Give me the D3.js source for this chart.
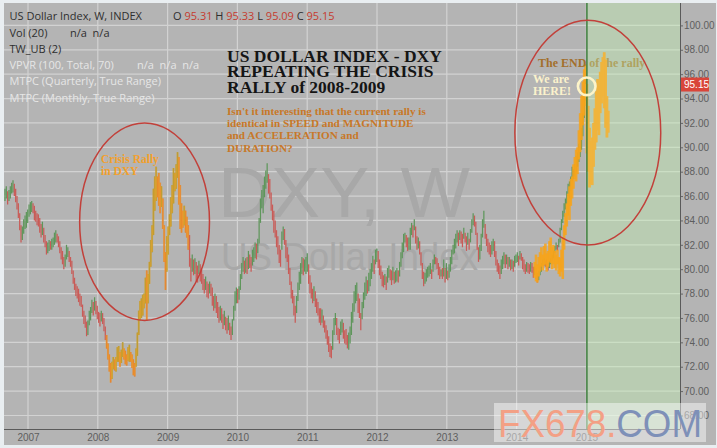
<!DOCTYPE html>
<html><head><meta charset="utf-8">
<script src="https://cdn.jsdelivr.net/npm/d3@7/dist/d3.min.js"></script>
<style>body{margin:0;background:#e9eef1;}svg{display:block}</style>
</head><body>
<svg id="c" width="717" height="448"></svg>
<script>
// ---------------- DATA ----------------
const yearTicks = [2007, 2008, 2009, 2010, 2011, 2012, 2013, 2014, 2015];
const priceTicks = [68, 70, 72, 74, 76, 78, 80, 82, 84, 86, 88, 90, 92, 94, 96, 98, 100];
const startYear = 2006.67;   // year of first weekly bar
const weeksPerYear = 52.18;
// weekly lows / highs of DXY
const lows = [
85.6,85.8,85.3,85.6,85.8,86.2,86.3,86.0,85.5,84.9,84.2,83.2,82.2,82.4,82.9,83.3,83.4,
83.8,84.3,84.5,84.7,84.6,84.0,83.9,83.6,83.5,83.0,82.6,82.8,82.2,81.8,81.2,81.3,81.5,81.6,81.6,81.8,82.0,82.2,82.2,81.8,81.3,80.8,80.4,80.0,80.2,80.8,81.0,80.6,80.2,79.6,78.8,78.3,77.8,77.6,77.3,77.0,76.9,76.1,75.5,75.2,74.5,74.6,75.4,75.8,76.4,76.2,76.6,76.3,
75.9,75.6,75.3,75.7,75.5,74.9,74.2,73.5,72.6,71.6,70.7,71.0,71.8,71.7,71.6,72.4,72.4,72.0,72.3,72.8,72.6,72.2,72.1,72.5,72.4,72.4,71.9,71.3,71.2,72.0,72.9,74.6,75.8,76.0,76.2,76.8,77.2,75.8,77.2,78.8,80.2,81.4,82.8,84.8,85.6,85.9,85.2,84.6,85.1,83.3,80.6,78.3,
79.8,81.2,82.8,83.5,84.6,85.4,86.4,86.6,87.5,85.3,83.3,83.0,83.4,83.6,83.0,82.6,81.6,80.2,79.0,79.8,79.5,79.6,79.0,78.9,79.6,79.0,78.8,78.3,78.0,78.3,77.7,77.6,78.0,77.8,77.0,76.6,76.8,76.4,76.0,75.6,75.8,75.6,75.1,75.4,75.0,74.7,75.0,74.6,74.2,74.6,75.8,76.6,77.2,
77.2,77.5,78.3,79.2,79.8,79.6,79.7,79.6,80.0,80.1,79.8,80.3,80.6,80.9,80.8,81.3,82.1,83.8,85.0,84.6,85.9,86.6,87.1,86.2,85.8,84.8,84.0,83.0,82.6,81.8,81.2,80.5,80.2,81.6,82.4,82.0,80.9,80.6,79.6,78.7,77.6,77.2,76.2,75.6,76.4,77.4,78.3,78.8,79.6,79.5,79.8,79.6,79.8,
78.8,78.0,77.6,77.2,77.4,76.9,76.4,76.2,75.6,75.4,75.6,75.2,74.8,74.3,73.8,73.2,72.8,72.7,73.4,74.6,75.4,74.6,74.2,73.9,74.6,74.8,74.3,73.9,73.8,73.5,73.4,73.9,74.6,75.6,76.5,77.2,77.4,76.4,76.0,75.0,75.9,76.8,77.5,77.8,78.0,78.2,78.6,79.2,79.8,79.6,80.4,
80.6,80.1,79.5,79.2,78.6,78.5,78.7,78.3,78.9,79.3,79.1,78.7,79.1,78.8,78.9,79.0,78.9,79.4,80.2,80.9,81.4,82.2,81.8,81.5,81.6,81.6,82.8,82.6,83.2,82.1,81.6,81.7,81.2,80.3,79.2,78.6,78.8,79.0,79.3,79.4,79.6,79.2,79.8,80.4,80.4,80.0,79.5,79.2,79.4,79.2,79.4,78.9,
79.2,79.1,79.3,79.8,80.4,81.2,81.3,81.7,82.2,81.9,82.4,82.1,81.8,82.5,82.2,81.5,82.0,81.6,82.2,83.0,83.6,83.5,82.8,81.6,80.6,80.8,81.5,82.6,83.4,82.5,81.9,81.4,81.2,81.0,81.2,81.5,81.0,80.3,79.8,79.6,79.2,79.6,80.0,80.4,80.1,80.4,80.0,80.2,79.9,80.0,79.8,80.2,
80.5,80.6,80.3,80.8,80.7,80.0,79.8,79.6,79.8,79.7,79.6,79.8,79.7,79.3,79.5,79.2,78.9,79.1,79.5,79.8,80.3,80.3,80.2,80.0,79.9,80.1,80.4,80.7,80.9,81.3,81.6,81.5,81.8,82.2,83.2,83.8,84.3,84.9,85.3,86.0,85.8,86.4,87.2,87.4,87.6,88.0,88.4,88.8,89.2,89.8,90.9,92.4,93.8];
const highs = [
86.6,86.8,86.4,86.5,86.8,87.1,87.3,87.0,86.6,86.0,85.4,84.6,83.6,83.5,84.1,84.4,84.7,
84.9,85.3,85.5,85.6,85.4,85.2,84.8,84.6,84.5,84.2,83.7,83.9,83.4,82.8,82.3,82.2,82.4,82.3,82.5,82.6,83.0,83.2,82.9,82.7,82.3,81.8,81.5,81.0,81.2,82.0,81.8,81.5,81.0,80.7,79.9,79.3,78.8,78.6,78.4,78.0,77.8,77.1,76.6,76.2,75.7,75.8,76.6,76.9,77.5,77.3,77.7,77.4,
77.0,76.5,76.4,76.6,76.4,76.0,75.3,74.6,73.9,73.0,72.3,72.4,72.8,72.6,72.8,73.6,73.7,73.2,73.4,74.0,73.5,73.3,73.0,73.6,73.8,73.2,73.0,72.6,72.3,73.5,74.8,76.6,77.4,77.6,77.9,78.0,79.3,79.9,79.6,80.6,82.4,83.6,86.6,87.6,88.4,87.6,87.9,87.1,86.8,85.8,83.6,81.4,
82.7,83.5,84.5,85.9,86.9,88.3,87.9,88.6,89.6,89.2,86.9,85.4,84.8,85.2,84.8,84.3,83.6,82.8,80.9,81.2,80.8,80.9,80.6,80.3,80.7,80.4,80.0,79.6,79.2,79.4,79.0,78.8,79.0,78.8,78.5,77.8,78.0,77.8,77.3,76.9,77.0,76.8,76.3,76.6,76.1,76.0,76.2,75.6,75.3,75.9,77.0,78.2,78.5,
78.4,78.6,79.6,80.5,81.0,80.7,80.9,81.0,81.5,81.2,81.0,81.6,81.8,82.2,82.1,82.5,84.2,85.8,86.5,86.9,87.6,88.1,88.7,87.8,87.4,86.3,85.3,84.8,84.0,83.2,82.7,82.0,81.6,83.1,83.5,83.3,82.4,81.8,81.2,80.1,79.0,78.3,77.8,77.0,77.8,78.9,79.8,80.5,81.0,80.9,80.8,81.0,81.3,
80.4,79.5,78.9,78.4,78.6,78.2,77.6,77.3,76.8,76.8,76.7,76.2,75.8,75.4,75.0,74.5,73.9,73.7,75.0,76.0,76.4,76.0,75.2,75.1,75.7,75.9,75.6,75.0,75.1,74.6,74.8,75.3,76.5,77.2,78.2,78.7,78.9,78.0,77.6,76.4,77.3,78.1,78.9,79.4,79.1,79.7,80.0,80.5,81.1,80.8,81.6,
81.7,81.5,80.8,80.3,79.8,79.5,79.6,79.4,80.1,80.3,80.0,79.9,80.2,79.8,79.9,80.1,79.9,80.6,81.4,82.2,82.9,83.0,82.8,82.6,82.6,83.4,83.8,83.6,84.1,83.5,82.7,82.6,82.3,81.4,80.5,79.8,79.7,80.0,80.2,80.3,80.5,80.0,80.8,81.2,81.0,80.9,80.5,80.2,80.0,80.1,80.8,80.1,
80.5,79.9,80.4,81.0,81.6,82.0,82.5,82.9,83.2,83.0,83.2,83.1,82.9,83.4,83.0,82.7,83.0,82.5,83.3,84.1,84.6,84.4,83.9,83.0,81.8,82.0,82.9,84.1,84.8,83.7,82.9,82.5,82.2,82.0,82.3,82.5,82.3,81.5,80.8,80.5,80.3,80.8,81.1,81.4,81.2,81.2,81.0,81.0,80.8,80.8,80.7,81.1,
81.2,81.4,81.1,81.5,81.3,81.0,80.8,80.4,80.6,80.5,80.4,80.6,80.5,80.2,80.2,80.1,79.7,79.9,80.3,80.5,80.8,80.9,80.7,80.8,80.5,80.7,80.9,81.2,81.5,81.9,82.2,82.0,82.5,83.4,84.1,84.8,85.4,85.8,86.4,87.0,87.2,87.6,88.4,88.2,88.6,89.3,89.6,90.3,90.8,91.6,92.8,94.5,95.5];
// crisis rally highlighted in orange (weekly bar indexes)
const crisisFrom = 76, crisisTo = 137;
// orange copy of the crisis rally pasted over the 2014 rally
const copyStart = 396;
const copyLows  = [79.3,79.0,78.9,79.4,79.8,80.2,79.9,80.3,80.4,79.8,80.2,80.6,80.5,80.0,80.4,80.1,79.9,80.4,79.6,79.4,79.8,79.2,81.6,82.8,83.5,84.4,84.0,85.2,85.8,86.6,87.4,87.2,87.8,89.0,89.6,90.6,91.8,92.6,93.4];
const copyHighs = [80.6,81.2,80.4,81.0,81.4,81.8,81.2,81.9,82.1,81.3,81.5,82.3,82.6,81.8,82.0,81.5,81.2,81.6,81.0,80.9,81.6,82.6,83.6,84.6,85.4,86.2,86.8,87.4,87.6,88.6,89.2,89.8,90.0,91.4,92.8,94.2,95.4,96.4,96.8];
// projected continuation (in the green zone)
const projStart = 435;
const projLows  = [89.5,88.0,86.7,87.0,86.9,88.4,89.8,90.4,91.4,91.0,92.8,93.6,94.2,93.2,91.6,90.8,91.2];
const projHighs = [95.2,93.4,91.6,90.5,90.8,92.0,93.2,94.6,95.6,95.0,96.2,97.0,97.4,97.8,97.2,94.2,93.0];
const ohlcNames = ["O", "H", "L", "C"];
const ohlcValues = [95.31, 95.33, 95.09, 95.15];
const lastPrice = 95.15;
const greenZoneStart = 2015.0;
// annotation ellipses in data units (year, price)
const ellipses = [
  {cx: 2008.67, cy: 83.9, rx: 0.93, ry: 8.1},
  {cx: 2015.02, cy: 91.2, rx: 1.045, ry: 9.22}
];

// ---------------- LAYOUT ----------------
const W = 717, H = 448;
const plot = {l: 4, r: 680, t: 3, b: 429};
const svg = d3.select("#c");
const x = d3.scaleLinear().domain([2007, 2015]).range([28, 586.4]);
const y = d3.scaleLinear().domain([70, 100]).range([391.1, 25.4]);
const barX = i => x(startYear + i / weeksPerYear);
const sans = "'Open Sans', 'Liberation Sans', Arial, sans-serif";
const serif = "'Liberation Serif', 'Times New Roman', serif";

svg.append("rect").attr("width", W).attr("height", H).attr("fill", "#e9eef1");
svg.append("rect").attr("x", 4).attr("y", 3).attr("width", 712).attr("height", 442).attr("fill", "#b4b4b4");

const defs = svg.append("defs");
defs.append("clipPath").attr("id", "pc").append("rect")
  .attr("x", plot.l).attr("y", plot.t).attr("width", plot.r - plot.l).attr("height", plot.b - plot.t);
const g = svg.append("g").attr("clip-path", "url(#pc)");

// grid
g.selectAll("line.hg").data(priceTicks).join("line")
  .attr("x1", plot.l).attr("x2", plot.r).attr("y1", d => y(d)).attr("y2", d => y(d))
  .attr("stroke", "#d2d2d2").attr("stroke-width", 1.2);
g.selectAll("line.vg").data(yearTicks).join("line")
  .attr("x1", d => x(d)).attr("x2", d => x(d)).attr("y1", plot.t).attr("y2", plot.b)
  .attr("stroke", "#d2d2d2").attr("stroke-width", 1.2);

// watermark
g.append("text").attr("x", 218).attr("y", 217).attr("font-family", "'Liberation Sans', Arial, sans-serif")
  .attr("font-size", 70).attr("fill", "#a8a8a8").attr("textLength", 252).attr("lengthAdjust", "spacingAndGlyphs").text("DXY, W");
g.append("text").attr("x", 221).attr("y", 270).attr("font-family", "'Liberation Sans', Arial, sans-serif")
  .attr("font-size", 38).attr("fill", "#a8a8a8").attr("textLength", 257).attr("lengthAdjust", "spacingAndGlyphs").text("US Dollar Index");

// bars
const bars = lows.map((lo, i) => ({i, lo, hi: highs[i]}));
const barColor = d => (d.i === 0 || d.lo + d.hi >= lows[d.i - 1] + highs[d.i - 1]) ? "#5e965b" : "#c95b57";

// crisis highlight (orange underlay + overlay so bars show through)
const crisis = bars.filter(d => d.i >= crisisFrom && d.i <= crisisTo);
g.selectAll("line.bar").data(bars).join("line")
  .attr("x1", d => barX(d.i)).attr("x2", d => barX(d.i))
  .attr("y1", d => y(d.lo)).attr("y2", d => y(d.hi))
  .attr("stroke", barColor)
  .attr("stroke-width", 1.25);
g.selectAll("line.cr").data(crisis).join("line")
  .attr("x1", d => barX(d.i)).attr("x2", d => barX(d.i))
  .attr("y1", d => y(d.lo)).attr("y2", d => y(d.hi))
  .attr("stroke", "#f7a21c").attr("stroke-width", 2.0).attr("opacity", 0.62);

// copy overlay
const copy = copyLows.map((lo, k) => ({i: copyStart + k, lo, hi: copyHighs[k]}));
g.selectAll("line.cp").data(copy).join("line")
  .attr("x1", d => barX(d.i)).attr("x2", d => barX(d.i))
  .attr("y1", d => y(d.lo)).attr("y2", d => y(d.hi))
  .attr("stroke", "#f8a41a").attr("stroke-width", 2.6).attr("opacity", 0.85);

// "The END of the rally" (under the green overlay)
g.append("text").attr("x", 538).attr("y", 67).attr("font-family", serif).attr("font-weight", "bold")
  .attr("font-size", 12).attr("fill", "#a36f2c").text("The END of the rally");

// green zone
g.append("rect").attr("x", x(greenZoneStart)).attr("y", plot.t)
  .attr("width", plot.r - x(greenZoneStart)).attr("height", plot.b - plot.t)
  .attr("fill", "#c0f0b0").attr("opacity", 0.4);

// projection
const proj = projLows.map((lo, k) => ({i: projStart + k, lo, hi: projHighs[k]}));
g.selectAll("line.pj").data(proj).join("line")
  .attr("x1", d => barX(d.i)).attr("x2", d => barX(d.i))
  .attr("y1", d => y(d.lo)).attr("y2", d => y(d.hi))
  .attr("stroke", "#f1b43c").attr("stroke-width", 2.8).attr("opacity", 0.95);

g.append("line").attr("x1", x(greenZoneStart) + 0.5).attr("x2", x(greenZoneStart) + 0.5)
  .attr("y1", plot.t).attr("y2", plot.b).attr("stroke", "#3e7d3e").attr("stroke-width", 1.5);

// ellipses
const pxPerYear = x(2008) - x(2007), pxPerUnit = y(70) - y(71);
g.selectAll("ellipse.an").data(ellipses).join("ellipse")
  .attr("cx", d => x(d.cx)).attr("cy", d => y(d.cy))
  .attr("rx", d => d.rx * pxPerYear).attr("ry", d => d.ry * pxPerUnit)
  .attr("fill", "none").attr("stroke", "#c2403a").attr("stroke-width", 1.5);

// "We are HERE!" circle
g.append("circle").attr("cx", x(greenZoneStart) + 0.3).attr("cy", y(95.0)).attr("r", 8.8)
  .attr("fill", "none").attr("stroke", "#fdf4c8").attr("stroke-width", 2.6);

// annotation texts
const title = ["US DOLLAR INDEX - DXY", "REPEATING THE CRISIS", "RALLY of 2008-2009"];
svg.selectAll("text.title").data(title).join("text")
  .attr("x", 227).attr("y", (d, i) => 61.5 + i * 15.8)
  .attr("font-family", serif).attr("font-weight", "bold").attr("font-size", 17.5).attr("fill", "#151515").text(d => d);
const para = ["Isn't it interesting that the current rally is", "identical in SPEED and MAGNITUDE", "and ACCELERATION and", "DURATION?"];
svg.selectAll("text.para").data(para).join("text")
  .attr("x", 227).attr("y", (d, i) => 115 + i * 12.2)
  .attr("font-family", serif).attr("font-weight", "bold").attr("font-size", 11.2).attr("fill", "#c87828").text(d => d);
svg.selectAll("text.crisis").data(["Crisis Rally", "in DXY"]).join("text")
  .attr("x", 101).attr("y", (d, i) => 163 + i * 11.5)
  .attr("font-family", serif).attr("font-weight", "bold").attr("font-size", 11.5).attr("fill", "#f2a02c").text(d => d);
svg.selectAll("text.here").data(["We are", "HERE!"]).join("text")
  .attr("x", 533).attr("y", (d, i) => 83 + i * 12)
  .attr("font-family", serif).attr("font-weight", "bold").attr("font-size", 12).attr("fill", "#fbf2cc").text(d => d);

// legend
const dark = "#2f2f2f", light = "#e6e6e6", red = "#c53c30";
const L = svg.append("g").attr("font-family", sans).attr("font-size", 11);
L.append("text").attr("x", 9.5).attr("y", 19.5).attr("fill", dark).text("US Dollar Index, W, INDEX");
const ohlc = L.append("text").attr("x", 173).attr("y", 19.5).attr("fill", dark);
ohlcNames.forEach((n, k) => {
  ohlc.append("tspan").attr("fill", dark).text((k ? " " : "") + n + " ");
  ohlc.append("tspan").attr("fill", red).text(ohlcValues[k].toFixed(2));
});
L.append("text").attr("x", 9.5).attr("y", 36.5).attr("fill", dark).text("Vol (20)");
L.append("text").attr("x", 70).attr("y", 36.5).attr("fill", dark).attr("xml:space", "preserve").text("n/a  n/a");
L.append("text").attr("x", 9.5).attr("y", 53).attr("fill", dark).text("TW_UB (2)");
L.append("text").attr("x", 9.5).attr("y", 68.5).attr("fill", light).text("VPVR (100, Total, 70)");
L.append("text").attr("x", 137).attr("y", 68.5).attr("fill", light).attr("xml:space", "preserve").text("n/a  n/a  n/a");
L.append("text").attr("x", 9.5).attr("y", 85).attr("fill", light).text("MTPC (Quarterly, True Range)");
L.append("text").attr("x", 9.5).attr("y", 101.5).attr("fill", light).text("MTPC (Monthly, True Range)");

// axes
const yAxis = svg.append("g").attr("transform", `translate(${plot.r},0)`)
  .call(d3.axisRight(y).tickValues(priceTicks).tickFormat(d3.format(".2f")).tickSize(3).tickPadding(1));
yAxis.select(".domain").remove();
yAxis.selectAll("line").attr("stroke", "#666");
yAxis.selectAll("text").attr("font-family", "'Liberation Sans', Arial, sans-serif").attr("font-size", 10).attr("fill", "#5e5e5e");
svg.append("line").attr("x1", plot.r + 0.5).attr("x2", plot.r + 0.5).attr("y1", plot.t).attr("y2", plot.b)
  .attr("stroke", "#5a5a5a").attr("stroke-width", 1);

const xAxis = svg.append("g").attr("transform", `translate(0,${plot.b})`)
  .call(d3.axisBottom(x).tickValues(yearTicks).tickFormat(d3.format("d")).tickSize(0).tickPadding(5));
xAxis.select(".domain").remove();
xAxis.selectAll("text").attr("font-family", "'Liberation Sans', Arial, sans-serif").attr("font-size", 10).attr("fill", "#5e5e5e");
svg.append("line").attr("x1", plot.l).attr("x2", plot.r).attr("y1", plot.b + 0.5).attr("y2", plot.b + 0.5)
  .attr("stroke", "#5a5a5a").attr("stroke-width", 1);

// last price label
const lp = svg.append("g").attr("transform", `translate(${plot.r + 1},${y(lastPrice)})`);
lp.append("rect").attr("x", 0).attr("y", -7).attr("width", 28).attr("height", 14).attr("fill", "#d9453a");
lp.append("text").attr("x", 3).attr("y", 3.8).attr("font-family", "'Liberation Sans', Arial, sans-serif")
  .attr("font-size", 10).attr("fill", "#ffffff").text(lastPrice.toFixed(2));

// FX678 watermark (semi-transparent, lies over the corner labels as in the original)
svg.append("rect").attr("x", 494).attr("y", 403).attr("width", 212).attr("height", 39).attr("fill", "#ffffff").attr("opacity", 0.45);
const fx = svg.append("text").attr("x", 498).attr("y", 437).attr("font-family", "'Liberation Sans', Arial, sans-serif")
  .attr("font-size", 38).attr("textLength", 204).attr("lengthAdjust", "spacingAndGlyphs");
fx.append("tspan").attr("fill", "#f3a085").text("FX678.");
fx.append("tspan").attr("fill", "#7e90b8").text("COM");
</script>
</body></html>
